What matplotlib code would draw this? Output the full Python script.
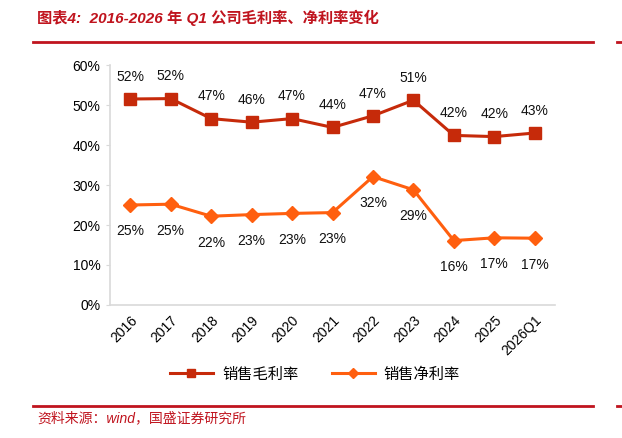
import matplotlib.pyplot as plt
from matplotlib.lines import Line2D
import numpy as np

plt.rcParams['font.family'] = ['Liberation Sans', 'Noto Sans CJK SC', 'DejaVu Sans']

# data
years = ['2016', '2017', '2018', '2019', '2020', '2021', '2022', '2023', '2024', '2025', '2026Q1']
gross_margin = [51.5, 51.6, 46.6, 45.7, 46.6, 44.4, 47.3, 51.2, 42.4, 42.1, 43.0]
net_margin = [25.0, 25.2, 22.2, 22.6, 22.9, 23.1, 32.1, 28.8, 16.1, 16.8, 16.7]
gross_labels = ['52%', '52%', '47%', '46%', '47%', '44%', '47%', '51%', '42%', '42%', '43%']
net_labels = ['25%', '25%', '22%', '23%', '23%', '23%', '32%', '29%', '16%', '17%', '17%']

red = '#C0141E'
c_gross = '#C62A0A'
c_net = '#FF5F0F'

fig = plt.figure(figsize=(6.22, 4.38), dpi=100)
ax = fig.add_axes([110 / 622, 1 - 305 / 438, 445 / 622, 240 / 438])

x = np.arange(len(years))
ax.plot(x, gross_margin, color=c_gross, lw=2.2, marker='s', ms=8, label='销售毛利率')
ax.plot(x, net_margin, color=c_net, lw=2.2, marker='D', ms=7, label='销售净利率')

for xi, v, t in zip(x, gross_margin, gross_labels):
    ax.annotate(t, (xi, v), xytext=(0, 16), textcoords='offset points',
                ha='center', va='center', fontsize=10, color='#111111')
for xi, v, t in zip(x, net_margin, net_labels):
    ax.annotate(t, (xi, v), xytext=(0, -19), textcoords='offset points',
                ha='center', va='center', fontsize=10, color='#111111')

ax.set_xlim(-0.5, len(years) - 0.5)
ax.set_ylim(0, 60)
ax.set_yticks(range(0, 61, 10))
ax.set_yticklabels([f'{v}%' for v in range(0, 61, 10)], fontsize=10)
ax.set_xticks(x)
ax.set_xticklabels(years, rotation=45, ha='right', va='top', fontsize=10,
                   rotation_mode='anchor')
ax.tick_params(axis='x', length=0, pad=6)
ax.tick_params(axis='y', length=3, color='#D9D9D9', pad=4)
for s in ['top', 'right']:
    ax.spines[s].set_visible(False)
for s in ['left', 'bottom']:
    ax.spines[s].set_color('#D9D9D9')
    ax.spines[s].set_linewidth(1.2)

ax.legend(loc='center', bbox_to_anchor=(315 / 622, 1 - 374 / 438),
          bbox_transform=fig.transFigure, ncol=2, frameon=False,
          prop={'family': 'Noto Sans CJK SC', 'size': 11},
          handlelength=2.8, columnspacing=2.2, markerscale=0.8, handletextpad=0.6)

# header / footer
fig.text(37 / 622, 1 - 18 / 438, '图表4:  2016-2026 年 Q1 公司毛利率、净利率变化',
         color=red, fontsize=11, style='italic', fontweight='bold', va='center')
fig.add_artist(Line2D([33 / 622, 593 / 622], [1 - 42 / 438] * 2, color=red, lw=2))
fig.add_artist(Line2D([617 / 622, 622 / 622], [1 - 42 / 438] * 2, color=red, lw=2))
fig.add_artist(Line2D([33 / 622, 593 / 622], [1 - 406 / 438] * 2, color=red, lw=2))
fig.add_artist(Line2D([617 / 622, 622 / 622], [1 - 406 / 438] * 2, color=red, lw=2))
fig.text(37 / 622, 1 - 418 / 438, '资料来源：wind，国盛证券研究所',
         color=red, fontsize=10, style='italic', va='center')

fig.savefig('out.png', dpi=100)
